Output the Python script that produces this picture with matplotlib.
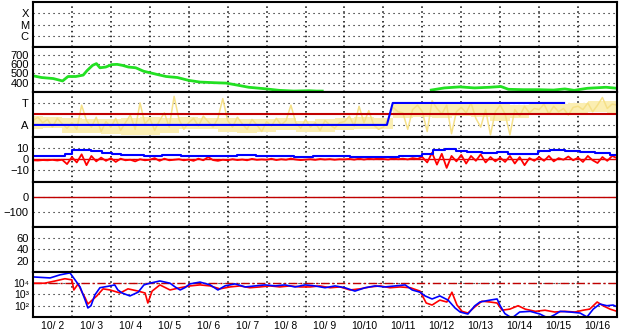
import numpy as np
import matplotlib
matplotlib.use('Agg')
import matplotlib.pyplot as plt
from matplotlib.ticker import NullLocator

plt.rcParams['font.family'] = ['Liberation Sans', 'DejaVu Sans']

# x axis: days since 10/2 00:00
day_labels = ['10/ 2', '10/ 3', '10/ 4', '10/ 5', '10/ 6', '10/ 7', '10/ 8', '10/ 9',
              '10/10', '10/11', '10/12', '10/13', '10/14', '10/15', '10/16']

# solar wind speed (km/s)
speed_t = [0, 0.22, 0.52, 0.76, 0.9, 1.1, 1.29, 1.39, 1.53, 1.63, 1.72, 1.87, 2.02, 2.16,
           2.3, 2.45, 2.64, 2.84, 3.03, 3.22, 3.42, 3.71, 3.99, 4.29, 4.67, 4.96, 5.25,
           5.54, 5.93, 6.32, 6.7, 7.09, 7.28, 7.43, 7.5,
           10.2, 10.23, 10.57, 10.96, 11.34, 11.73, 12.02, 12.21, 12.6, 12.98, 13.37,
           13.66, 13.9, 14.24, 14.72, 15.0]
speed_v = [475, 456, 445, 419, 467, 467, 482, 531, 587, 606, 561, 569, 595, 598,
           587, 569, 561, 524, 505, 486, 467, 456, 426, 407, 400, 396, 374,
           351, 336, 318, 310, 314, 310, 310, np.nan,
           np.nan, 321, 344, 355, 344, 351, 359, 329, 325, 325, 321,
           333, 318, 340, 351, 340]

# plasma ratio panel (A = 0, T = 1), 3-hourly samples
ratio_v = [0.2, 0.35, 0.1, 0.25, -0.1, 0.3, 0.05, -0.15,
           0.1, -0.2, 0.9, 0.2, -0.1, 0.35, -0.3, 0.15,
           -0.1, 0.3, -0.25, 0.1, 0.45, -0.2, 1.0, 0.05,
           0.3, -0.25, 0.2, 0.55, -0.1, 1.3, 0.25, -0.2,
           0.1, 0.3, -0.05, 0.4, 0.15, -0.1, 0.3, 1.2,
           0.2, -0.1, 0.35, 0.05, -0.2, 0.25, 0.0, -0.3,
           0.15, -0.05, 0.3, 0.0, 0.2, 0.9, 0.1, -0.15,
           0.25, -0.1, 0.1, -0.25, 0.2, 0.0, -0.15, 0.1,
           0.15, 0.4, -0.05, 0.85, 0.1, 0.65, 0.0, -0.2,
           -0.1, 0.3, 0.8, 0.6, 0.55, -0.2, 0.7, 0.9,
           0.6, -0.3, 1.1, 0.75, 0.5, 0.9, -0.4, 0.6,
           0.8, 0.55, 1.0, 0.3, -0.1, 0.7, -0.45, 0.6,
           0.9, 0.5, -0.45, 0.7, 0.4, 0.85, 0.55, 0.75,
           0.7, 0.95, 0.5, 0.85, 0.6, 0.75, 0.45, 0.8,
           0.85, 0.7, 1.0, 0.6, 0.9, 1.25, 0.75, 0.95,
           0.9]
# spread of the ratio band, half-day samples
band_lo = [-0.2, -0.15, -0.35, -0.35, -0.4, -0.45, -0.45, -0.35, -0.2, -0.2, -0.3,
           -0.35, -0.3, -0.25, -0.3, -0.3, -0.25, -0.2, -0.2, 0.3, 0.35, 0.3, 0.4,
           0.35, 0.2, 0.3, 0.45, 0.45, 0.55, 0.6, 0.5]
band_hi = [0.4, 0.35, 0.3, 0.25, 0.25, 0.3, 0.35, 0.3, 0.35, 0.3, 0.3,
           0.25, 0.25, 0.3, 0.2, 0.25, 0.3, 0.35, 0.3, 0.95, 1.0, 1.05, 1.0,
           1.0, 0.95, 0.9, 0.95, 0.95, 1.0, 1.1, 1.1]
level_t = [0, 9.09, 9.24, 13.64]
level_v = [0, 0, 1, 1]

# magnetic field Bt (nT)
bt_t = [0, 0.42, 0.81, 1.0, 1.19, 1.49, 1.77, 2.02, 2.26, 2.55, 2.84, 3.32, 3.8, 4.29,
        4.77, 5.25, 5.74, 6.22, 6.7, 7.19, 7.67, 8.15, 8.64, 9.02, 9.41, 9.99, 10.28,
        10.57, 10.86, 11.15, 11.53, 11.92, 12.21, 12.5, 12.98, 13.27, 13.66, 14.05,
        14.43, 14.82, 15.0]
bt_v = [3.4, 3.4, 4.7, 8.1, 8.4, 7.8, 5.6, 4.7, 4.0, 4.0, 3.1, 4.0, 3.1, 3.4,
        3.4, 4.0, 3.4, 2.8, 2.2, 2.8, 2.8, 2.2, 1.6, 1.9, 2.8, 4.7, 8.4,
        9.0, 7.2, 6.6, 6.0, 6.6, 5.0, 4.7, 7.2, 8.4, 7.2, 6.6,
        5.6, 4.0, 2.8]

# Bz (nT), 3-hourly samples
bz_v = [-1, -1.2, -0.8, -1, -0.6, -1.2, -0.5, -4.5,
        2, -3, 4.5, -5.5, 3, -2, 1.5, -1.5,
        1, -2.5, 0.5, -1, -0.5, -2, 0, -1,
        -0.5, 1, -1.5, 0.5, -1, -0.5, 0, -1,
        -0.3, -1.5, 0.5, -1, 2, -0.8, -1.5, -0.5,
        -1, 0, -0.8, -0.3, -1, 0.3, -0.6, -0.2,
        -0.5, 0.4, -0.8, 0, -0.5, 0.6, -0.3, -0.8,
        -0.4, 0, -0.6, 0.2, -0.3, 0.1, -0.5, 0,
        -0.2, 0.3, -0.4, 0.5, -0.3, 0.4, 0, 0.6,
        0.2, -0.3, 0.8, 0, 0.5, -0.2, 1, 0.3,
        2, -3, 6, -5, 5, -8, 3, -2,
        4, -4, 3, -1.5, 4.5, -3, 2, -2,
        1.5, -2.5, 3, -4, 2, -5.5, 1, -1.5,
        2, -1.5, 3, -2, 1, -0.5, 2.5, -1,
        1.5, -2.5, 3, -1, -3.5, 2, -1.5, 3,
        1]

# electron flux, log10 values
flux_b_t = [0, 0.44, 0.69, 0.95, 1.08, 1.21, 1.34, 1.41, 1.49, 1.59, 1.72, 1.98, 2.1,
            2.18, 2.29, 2.49, 2.7, 2.85, 3.0, 3.26, 3.52, 3.65, 3.78, 3.9, 4.03, 4.29,
            4.55, 4.75, 4.93, 5.19, 5.45, 5.7, 5.96, 6.22, 6.47, 6.73, 6.99, 7.24, 7.5,
            7.76, 8.01, 8.27, 8.53, 8.79, 9.04, 9.3, 9.56, 9.74, 9.94, 10.07, 10.25,
            10.45, 10.66, 10.84, 10.97, 11.17, 11.35, 11.48, 11.74, 11.92, 12.0, 12.12,
            12.3, 12.5, 12.77, 13.02, 13.23, 13.4, 13.54, 13.8, 14.05, 14.23, 14.39,
            14.56, 14.74, 14.9, 15.0]
flux_b_v = [4.56, 4.47, 4.74, 4.92, 4.3, 3.67, 2.5, 1.8, 2.0, 2.96, 3.6, 3.76, 3.85,
            3.4, 3.13, 2.87, 3.2, 3.85, 4.0, 4.2, 4.0, 3.67, 3.4, 3.6, 3.94, 4.1,
            3.85, 3.4, 3.76, 3.94, 3.67, 3.76, 3.85, 3.76, 3.85, 3.67, 3.85, 3.76, 3.6,
            3.76, 3.6, 3.3, 3.6, 3.76, 3.67, 3.76, 3.85, 3.4, 3.2, 2.87, 2.6,
            2.87, 2.5, 1.8, 1.44, 1.26, 2.0, 2.33, 2.5, 2.6, 2.0, 1.3,
            0.9, 1.44, 1.5, 1.26, 0.9, 1.2, 1.5, 1.44, 1.35, 1.0, 1.7,
            2.15, 2.0, 2.06, 1.9]
flux_r_t = [0, 0.3, 0.57, 0.82, 1.0, 1.05, 1.16, 1.26, 1.34, 1.41, 1.52, 1.64, 1.8,
            1.98, 2.24, 2.44, 2.7, 2.88, 2.95, 3.06, 3.26, 3.52, 3.78, 4.03, 4.29, 4.55,
            4.8, 5.06, 5.32, 5.57, 5.83, 6.09, 6.34, 6.6, 6.86, 7.12, 7.37, 7.63, 7.89,
            8.14, 8.4, 8.66, 8.91, 9.17, 9.43, 9.69, 9.94, 10.1, 10.25, 10.45, 10.63,
            10.76, 10.89, 11.02, 11.17, 11.35, 11.53, 11.74, 11.92, 12.05, 12.25, 12.46,
            12.64, 12.9, 13.15, 13.4, 13.66, 13.92, 14.13, 14.3, 14.49, 14.64, 14.82, 15.0]
flux_r_v = [4.0, 4.0, 4.2, 4.4, 4.3, 3.4, 3.94, 3.2, 2.7, 2.15, 2.5, 2.87, 3.5,
            3.4, 3.13, 3.5, 3.3, 3.13, 2.24, 3.3, 3.85, 3.4, 3.6, 3.76, 3.85, 3.76,
            3.5, 3.67, 3.76, 3.6, 3.67, 3.76, 3.67, 3.76, 3.67, 3.67, 3.76, 3.6, 3.67,
            3.4, 3.5, 3.67, 3.76, 3.6, 3.67, 3.6, 3.3, 2.24, 2.06, 2.5, 2.33,
            3.2, 2.06, 1.5, 1.35, 1.9, 2.4, 2.33, 2.24, 1.6, 1.7, 2.0,
            1.7, 1.5, 1.6, 1.44, 1.5, 1.44, 1.6, 1.7, 2.33, 2.0, 1.7, 1.5]

step_t = np.arange(len(bz_v)) * 0.125
band_t = np.arange(len(band_lo)) * 0.5

fig, axes = plt.subplots(7, 1, sharex=True, figsize=(6.28, 3.34), dpi=100)
fig.subplots_adjust(left=0.0525, right=0.9825, top=0.994, bottom=0.051, hspace=0)

for ax in axes:
    ax.set_xlim(0, 15)
    for s in ax.spines.values():
        s.set_linewidth(1.5)
        s.set_zorder(5)
    ax.tick_params(axis='both', length=0, labelsize=8, pad=3)
    ax.set_xticks(np.arange(15) + 0.5)
    ax.set_xticks(np.arange(1, 15), minor=True)
    ax.tick_params(axis='x', which='minor', length=0)
    ax.grid(which='minor', axis='x', color='black', linewidth=1.1, linestyle=(0, (1, 2.2)))
    ax.grid(which='major', axis='y', color='black', linewidth=0.8, linestyle=(0, (1, 3.5)))
    ax.set_axisbelow(True)

# X-ray
ax = axes[0]
ax.set_yscale('log')
ax.set_ylim(1e-7, 1e-3)
ax.set_yticks([1e-6, 1e-5, 1e-4])
ax.set_yticklabels(['C', 'M', 'X'])
ax.yaxis.set_minor_locator(NullLocator())

# speed
ax = axes[1]
ax.set_ylim(300, 785)
ax.set_yticks([400, 500, 600, 700])
ax.plot(speed_t, speed_v, color='#22e022', linewidth=2.0)

# ratio
ax = axes[2]
ax.set_ylim(-0.55, 1.5)
ax.set_yticks([0, 1])
ax.set_yticklabels(['A', 'T'])
ax.fill_between(band_t, band_lo, band_hi, step='mid', color='#fbeeb2', linewidth=0)
ax.plot(step_t, ratio_v, color='#f5e088', linewidth=1.1)
ax.axhline(0.5, color='#c00000', linewidth=1.5)
ax.plot(level_t, level_v, color='#0000ff', linewidth=1.5)

# magnetic field
ax = axes[3]
ax.set_ylim(-21, 20.5)
ax.set_yticks([-10, 0, 10])
ax.axhline(0, color='#e00000', linewidth=1.0)
ax.plot(step_t, bz_v, color='#ff0000', linewidth=1.3)
ax.plot(bt_t, bt_v, color='#0000ff', linewidth=1.5, drawstyle='steps-post')

# Dst
ax = axes[4]
ax.set_ylim(-206, 106)
ax.set_yticks([-100, 0])
ax.axhline(0, color='#c00000', linewidth=1.0)

# Kp / other
ax = axes[5]
ax.set_ylim(0, 80)
ax.set_yticks([20, 40, 60])

# electron flux
ax = axes[6]
ax.set_yscale('log')
ax.set_ylim(10, 1e5)
ax.set_yticks([1e2, 1e3, 1e4])
ax.set_yticklabels(['10\u00b2', '10\u00b3', '10\u2074'], fontsize=7.5)
ax.yaxis.set_minor_locator(NullLocator())
ax.axhline(1e4, color='#c00000', linewidth=1.0, linestyle=(0, (6, 2, 1.5, 2)))
ax.plot(flux_r_t, 10 ** np.array(flux_r_v), color='#ff0000', linewidth=1.2)
ax.plot(flux_b_t, 10 ** np.array(flux_b_v), color='#0000ff', linewidth=1.2)
ax.set_xticklabels(day_labels, fontsize=7.5)
ax.tick_params(axis='x', pad=3)

fig.savefig('out.png', dpi=100)
